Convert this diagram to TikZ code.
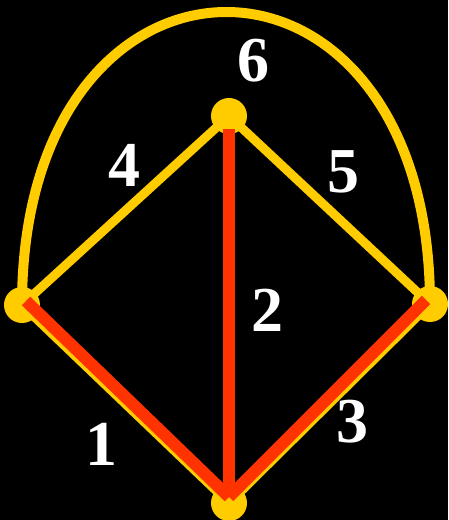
\documentclass[tikz,border=0pt]{standalone}
\usepackage{fontspec}
\setmainfont{Liberation Serif}
\usepackage{xcolor}
\usetikzlibrary{backgrounds}

\definecolor{gold}{HTML}{FFCC00}
\definecolor{redorange}{HTML}{FF3300}

\begin{document}
\begin{tikzpicture}[
  x=1pt, y=1pt,
  vertex/.style={circle, fill=gold, minimum size=36pt, inner sep=0pt},
  yedge/.style={draw=gold, line width=9pt},
  redge/.style={draw=redorange, line width=12pt},
  elabel/.style={text=white, inner sep=0pt, font=\fontsize{64}{64}\selectfont\bfseries}
]
\fill[black] (0,0) rectangle (448,520);
\useasboundingbox (0,0) rectangle (448,520);

\coordinate (leftc) at (22,215);
\coordinate (rightc) at (430,216);
\coordinate (topc) at (229,404);
\coordinate (bottomc) at (229,17);

% yellow edges
\draw[yedge, line width=10pt] (leftc) .. controls ([yshift=390pt]leftc) and ([yshift=390pt]rightc) .. (rightc);
\draw[yedge] (leftc) -- (topc);
\draw[yedge] (topc) -- (rightc);
\draw[yedge] (leftc) -- (bottomc);
\draw[yedge] (bottomc) -- (rightc);

% vertices
\node[vertex] (left) at (leftc) {};
\node[vertex] (right) at (rightc) {};
\node[vertex] (top) at (topc) {};
\node[vertex] (bottom) at (bottomc) {};

% red edges
\draw[redge] ([xshift=4pt,yshift=4pt]left.center) -- ([yshift=6pt]bottom.center);
\draw[redge] ([yshift=-13pt]top.center) -- ([yshift=6pt]bottom.center);
\draw[redge] ([yshift=6pt]bottom.center) -- ([xshift=-4pt,yshift=4pt]right.center);

% labels
\node[elabel] (l1) at (101,76) {1};
\node[elabel] (l2) at (267,210) {2};
\node[elabel] (l3) at (352,98) {3};
\node[elabel] (l4) at (124,355) {4};
\node[elabel] (l5) at (343,348) {5};
\node[elabel] (l6) at (253,459) {6};
\end{tikzpicture}
\end{document}
